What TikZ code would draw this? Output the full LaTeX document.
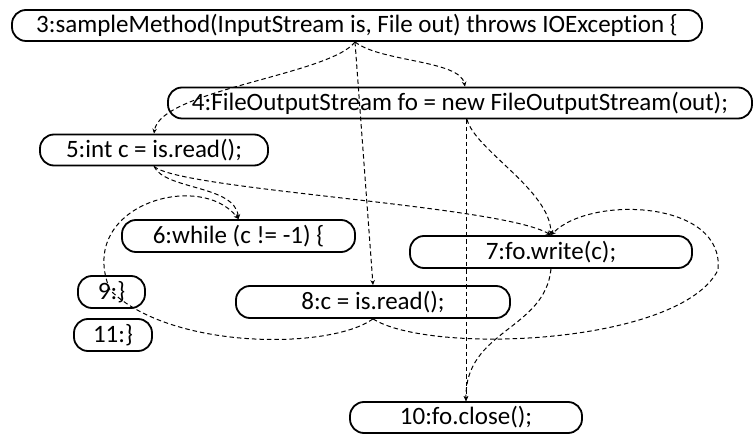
\documentclass[tikz,border=0pt]{standalone}
\usepackage{fontspec}
\setmainfont{Carlito}[Ligatures=NoCommon]
\usetikzlibrary{arrows.meta}
\begin{document}
\begin{tikzpicture}[x=1pt,y=-1pt,
  stmt/.style={draw, line width=1.8pt, rounded corners=14pt, inner sep=0pt,
    minimum height=31pt, font=\fontsize{25}{30}\selectfont},
  dep/.style={line width=1pt, dash pattern=on 4.5pt off 3pt,
    -{Stealth[length=5pt,width=4.5pt]}}]
\useasboundingbox (0,0) rectangle (755,435);
\node[stmt, minimum width=690pt] (n3) at (357,25.5) {3:sampleMethod(InputStream is, File out) throws IOException \{};
\node[stmt, minimum width=584pt] (n4) at (460,103) {4:FileOutputStream fo = new FileOutputStream(out);};
\node[stmt, minimum width=228pt] (n5) at (154,150) {5:int c = is.read();};
\node[stmt, minimum width=233pt, minimum height=32pt] (n6) at (238.5,236) {6:while (c != -1) \{};
\node[stmt, minimum width=282pt, minimum height=32pt] (n7) at (551,252) {7:fo.write(c);};
\node[stmt, minimum width=274pt, minimum height=32pt] (n8) at (373,302) {8:c = is.read();};
\node[stmt, minimum width=67pt, minimum height=32pt] (n9) at (111.5,292) {9:\}};
\node[stmt, minimum width=78pt, minimum height=32pt] (n11) at (113,335) {11:\}};
\node[stmt, minimum width=232pt] (n10) at (466,417.5) {10:fo.close();};
% 3 -> 5
\draw[dep] ([xshift=-2pt]n3.south) .. controls (330,75) and (160,90) .. (n5.north);
% 3 -> 4
\draw[dep] ([xshift=-2pt]n3.south) .. controls (380,62) and (460,60) .. ([xshift=5pt]n4.north);
% 3 -> 8
\draw[dep] ([xshift=-2pt]n3.south) -- (n8.north);
% 4 -> 7
\draw[dep] ([xshift=7pt]n4.south) .. controls (475,150) and (550,190) .. (n7.north);
% 4 -> 10
\draw[dep] (n4.south -| n10.north) -- (n10.north);
% 5 -> 6
\draw[dep] (n5.south) .. controls (165,190) and (235,185) .. (n6.north);
% 5 -> 7
\draw[dep] (n5.south) .. controls (180,190) and (500,205) .. (n7.north);
% 8 -> 6
\draw[dep] (n8.south) .. controls (330,350) and (170,350) .. (110,290)
  .. controls (75,205) and (200,170) .. (n6.north);
% 8 -> 7
\draw[dep] (n8.south) .. controls (430,355) and (680,345) .. (718,270)
  .. controls (725,200) and (590,195) .. (n7.north);
% 7 -> 10
\draw[dep] (n7.south) .. controls (545,330) and (465,330) .. (n10.north);
\end{tikzpicture}
\end{document}
